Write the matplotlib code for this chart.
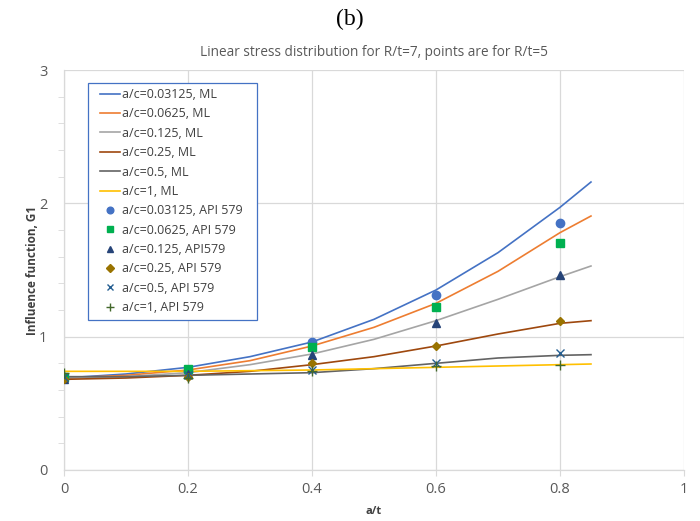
import matplotlib

matplotlib.use("Agg")
import matplotlib.pyplot as plt
from matplotlib.patches import Rectangle
from matplotlib.ticker import MultipleLocator

# curve data (ML)
x_ml = [0, 0.1, 0.2, 0.3, 0.4, 0.5, 0.6, 0.7, 0.8, 0.85]
ml_003125 = [0.69, 0.72, 0.77, 0.85, 0.96, 1.13, 1.35, 1.63, 1.97, 2.16]
ml_00625 = [0.69, 0.71, 0.75, 0.82, 0.93, 1.07, 1.25, 1.49, 1.78, 1.905]
ml_0125 = [0.69, 0.70, 0.73, 0.79, 0.87, 0.98, 1.12, 1.28, 1.45, 1.53]
ml_025 = [0.68, 0.69, 0.71, 0.74, 0.79, 0.85, 0.93, 1.02, 1.10, 1.12]
ml_05 = [0.70, 0.70, 0.71, 0.72, 0.73, 0.76, 0.80, 0.84, 0.86, 0.865]
ml_1 = [0.74, 0.74, 0.74, 0.745, 0.75, 0.76, 0.77, 0.78, 0.79, 0.795]

# API 579 points
x_api = [0, 0.2, 0.4, 0.6, 0.8]
api_003125 = [0.70, 0.74, 0.96, 1.31, 1.85]
api_00625 = [0.70, 0.76, 0.92, 1.22, 1.70]
api_0125 = [0.68, 0.72, 0.86, 1.10, 1.46]
api_025 = [0.68, 0.70, 0.80, 0.93, 1.12]
api_05 = [0.70, 0.71, 0.75, 0.80, 0.88]
api_1 = [0.73, 0.69, 0.74, 0.78, 0.79]

FONT = "Open Sans"

fig = plt.figure(figsize=(7, 5.21), dpi=100)
ax = fig.add_axes([0.0914, 0.0979, 0.8857, 0.7677])

lines = [
    (ml_003125, "#4472C4", "a/c=0.03125, ML"),
    (ml_00625, "#ED7D31", "a/c=0.0625, ML"),
    (ml_0125, "#A5A5A5", "a/c=0.125, ML"),
    (ml_025, "#9E480E", "a/c=0.25, ML"),
    (ml_05, "#636363", "a/c=0.5, ML"),
    (ml_1, "#FFC000", "a/c=1, ML"),
]
for ys, color, label in lines:
    ax.plot(x_ml, ys, color=color, linewidth=1.2, label=label, zorder=3)

points = [
    (api_003125, "o", "#4472C4", 6, "a/c=0.03125, API 579"),
    (api_00625, "s", "#00B050", 5.5, "a/c=0.0625, API 579"),
    (api_0125, "^", "#264478", 6, "a/c=0.125, API579"),
    (api_025, "D", "#997300", 4.5, "a/c=0.25, API 579"),
    (api_05, "x", "#255E91", 6, "a/c=0.5, API 579"),
    (api_1, "+", "#43682B", 6.5, "a/c=1, API 579"),
]
for ys, marker, color, size, label in points:
    ax.plot(x_api, ys, linestyle="none", marker=marker, color=color,
            markersize=size, markeredgewidth=1.0, label=label, zorder=4)

ax.set_xlim(0, 1)
ax.set_ylim(0, 3)
ax.yaxis.set_major_locator(MultipleLocator(1))
ax.yaxis.set_minor_locator(MultipleLocator(0.2))
ax.set_xticks([0, 0.2, 0.4, 0.6, 0.8, 1])
ax.set_xticklabels(["0", "0.2", "0.4", "0.6", "0.8", "1"])
ax.grid(True, which="major", color="#D9D9D9", linewidth=0.9, zorder=0)
ax.tick_params(axis="y", which="major", length=0, labelsize=10.5,
               labelcolor="#595959", pad=12)
ax.tick_params(axis="x", which="major", length=4, color="#D9D9D9",
               labelsize=10.5, labelcolor="#595959", pad=5)
ax.tick_params(axis="y", which="minor", length=4, color="#D9D9D9", direction="out")
for lab in ax.get_xticklabels() + ax.get_yticklabels():
    lab.set_family(FONT)
for side in ["top", "right"]:
    ax.spines[side].set_visible(False)
for side in ["left", "bottom"]:
    ax.spines[side].set_color("#D9D9D9")
    ax.spines[side].set_linewidth(0.9)

ax.set_xlabel("a/t", fontsize=8, fontweight="bold", color="#404040",
              family=FONT, labelpad=6)
ax.set_ylabel("Influence function, G1", fontsize=8.5, fontweight="bold",
              color="#404040", family=FONT, labelpad=0)
ax.set_title("Linear stress distribution for R/t=7, points are for R/t=5",
             fontsize=9.8, color="#595959", family=FONT, pad=10)
fig.text(0.5, 0.962, "(b)", ha="center", va="center", fontsize=17,
         family="Liberation Serif")

# legend frame drawn separately so the padding matches the reference
ax.add_patch(Rectangle((0.0387, 0.375), 0.2726, 0.5925, transform=ax.transAxes,
                       facecolor="white", edgecolor="#4472C4", linewidth=0.9,
                       zorder=5))
leg = ax.legend(loc="upper left", bbox_to_anchor=(0.058, 0.955),
                prop={"family": FONT, "size": 9}, frameon=False,
                handlelength=1.6, handletextpad=0.2, labelspacing=0.51,
                borderpad=0, borderaxespad=0, markerscale=0.8,
                labelcolor="#404040")
leg.set_zorder(6)

fig.savefig("out.png", dpi=100)
